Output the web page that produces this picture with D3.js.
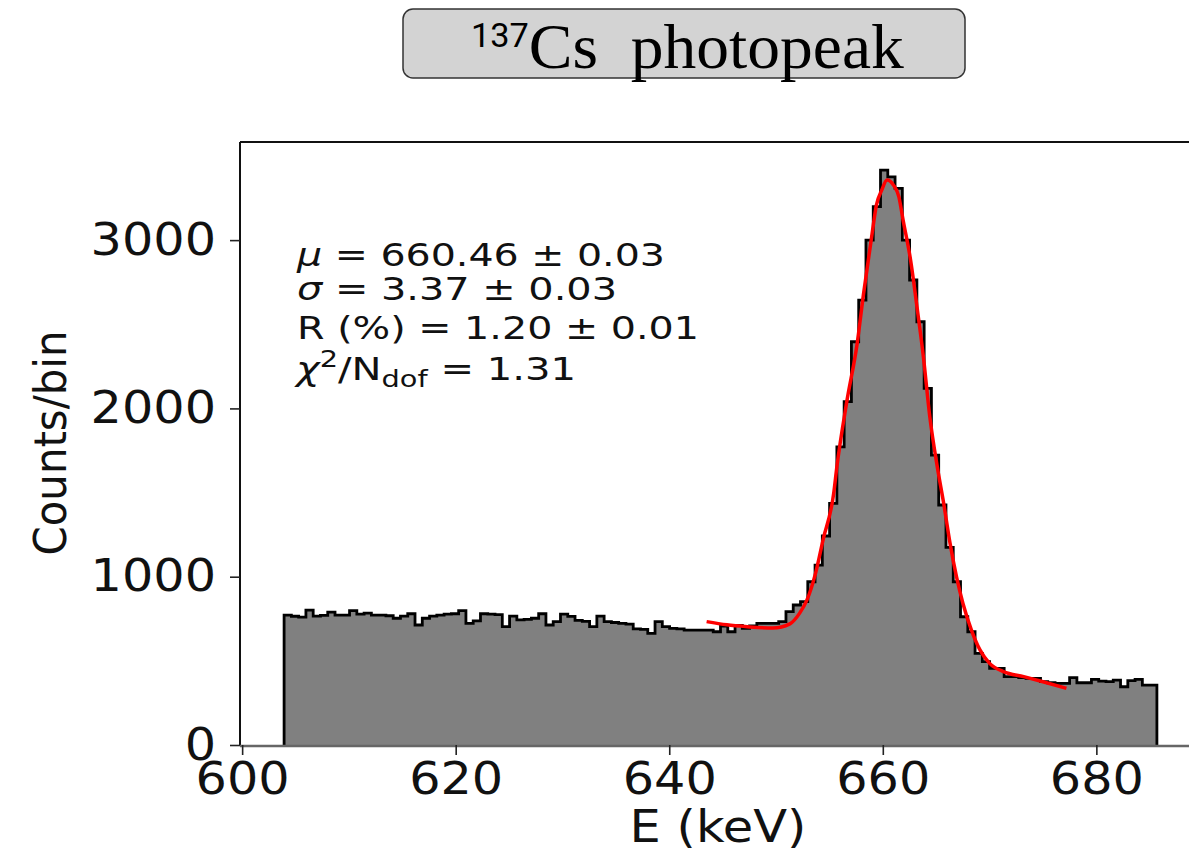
<!DOCTYPE html>
<html>
<head>
<meta charset="utf-8">
<script src="https://cdn.jsdelivr.net/npm/d3@7"></script>
<style>
  body { margin: 0; background: #fff; }
  svg { display: block; }
</style>
</head>
<body>
<div id="chart"></div>
<script>
// histogram range (keV) and counts per bin
const binLo = 603.93;
const binHi = 685.67;
const counts = [
  772, 765, 760, 802, 766, 770, 790, 772, 772, 798,
  778, 784, 772, 772, 768, 753, 766, 780, 713, 753,
  766, 772, 778, 780, 798, 723, 738, 780, 778, 775,
  703, 766, 743, 747, 753, 780, 713, 733, 778, 764,
  740, 735, 703, 766, 733, 728, 723, 718, 690, 687,
  663, 733, 703, 693, 690, 683, 683, 683, 683, 673,
  707, 673, 711, 693, 707, 723, 723, 723, 733, 792,
  832, 852, 970, 1069, 1242, 1436, 1772, 2040, 2396, 2644,
  3000, 3199, 3416, 3376, 3307, 3000, 2763, 2515, 2119, 1723,
  1426, 1174, 970, 762, 673, 545, 495, 455, 455, 406,
  406, 400, 396, 396, 376, 370, 366, 366, 400, 370,
  370, 390, 380, 376, 386, 346, 382, 390, 356, 356
];

// fitted curve, sampled off the red line
const fitE = [
  643.5, 645.4, 647.3, 649.7, 651.3, 652.2, 652.9, 653.7, 654.4, 655.4,
  655.7, 656.6, 657.6, 658.2, 659.0, 659.4, 659.9, 660.4, 661.0, 661.5,
  661.9, 662.6, 663.2, 663.8, 664.4, 665.1, 665.7, 666.3, 666.9, 667.5,
  668.3, 669.1, 670.0, 671.3, 673.2, 675.0, 677.2
];
const fitCounts = [
  733, 714, 703, 695, 720, 782, 862, 1020, 1218, 1495,
  1654, 2030, 2386, 2683, 3040, 3208, 3297, 3357, 3327, 3258,
  3119, 2882, 2604, 2307, 1951, 1654, 1436, 1198, 1000, 842,
  683, 565, 485, 436, 406, 376, 337
];

const xTicks = [600, 620, 640, 660, 680];
const yTicks = [0, 1000, 2000, 3000];
const xDomain = [599.8, 689.8];
const yDomain = [0, 3583];

const W = 1189, H = 853;
const plot = { left: 240, right: 1201, top: 142, bottom: 745 };

const svg = d3.select("#chart").append("svg")
  .attr("width", W)
  .attr("height", H);

const x = d3.scaleLinear().domain(xDomain).range([plot.left, plot.right]);
const y = d3.scaleLinear().domain(yDomain).range([plot.bottom, plot.top]);

// stretch text horizontally like the reference (it is a bit wide)
function widen(sel, f) {
  sel.each(function () {
    const w = this.getComputedTextLength();
    d3.select(this).attr("textLength", w * f).attr("lengthAdjust", "spacingAndGlyphs");
  });
}

// ---- histogram ----
const binW = (binHi - binLo) / counts.length;
const edges = counts.map((c, i) => ({ e: binLo + i * binW, c }));
edges.push({ e: binHi, c: counts[counts.length - 1] });

svg.append("path")
  .datum(edges)
  .attr("fill", "#808080")
  .attr("d", d3.area()
    .curve(d3.curveStepAfter)
    .x(d => x(d.e))
    .y0(y(0))
    .y1(d => y(d.c)));

const outline = [{ e: binLo, c: 0 }].concat(edges, [{ e: binHi, c: 0 }]);
svg.append("path")
  .datum(outline)
  .attr("fill", "none")
  .attr("stroke", "#000")
  .attr("stroke-width", 2.8)
  .attr("d", d3.line()
    .curve(d3.curveStepAfter)
    .x(d => x(d.e))
    .y(d => y(d.c)));

// ---- fit ----
svg.append("path")
  .datum(fitE.map((e, i) => [e, fitCounts[i]]))
  .attr("fill", "none")
  .attr("stroke", "#ff0000")
  .attr("stroke-width", 3.5)
  .attr("d", d3.line()
    .curve(d3.curveMonotoneX)
    .x(d => x(d[0]))
    .y(d => y(d[1])));

// ---- spines ----
svg.append("line")
  .attr("x1", plot.left).attr("x2", plot.right)
  .attr("y1", plot.top).attr("y2", plot.top)
  .attr("stroke", "#111").attr("stroke-width", 2);
svg.append("line")
  .attr("x1", plot.left).attr("x2", plot.left)
  .attr("y1", plot.top).attr("y2", plot.bottom)
  .attr("stroke", "#111").attr("stroke-width", 2);
svg.append("line")
  .attr("x1", plot.left).attr("x2", plot.right)
  .attr("y1", plot.bottom + 1).attr("y2", plot.bottom + 1)
  .attr("stroke", "#666").attr("stroke-width", 2.5);

// ---- axes ----
const xAxis = svg.append("g")
  .attr("transform", `translate(0,${plot.bottom})`)
  .call(d3.axisBottom(x).tickValues(xTicks).tickSize(10).tickPadding(8).tickFormat(d3.format("d")));
const yAxis = svg.append("g")
  .attr("transform", `translate(${plot.left},0)`)
  .call(d3.axisLeft(y).tickValues(yTicks).tickSize(10).tickPadding(14).tickFormat(d3.format("d")));

[xAxis, yAxis].forEach(g => {
  g.select(".domain").remove();
  g.selectAll(".tick line").attr("stroke", "#222").attr("stroke-width", 1.6);
  g.selectAll(".tick text")
    .attr("fill", "#111")
    .style("font-family", "DejaVu Sans")
    .style("font-size", "44px");
});
widen(xAxis.selectAll(".tick text"), 1.12);
widen(yAxis.selectAll(".tick text"), 1.12);

// axis labels
const xLabel = svg.append("text")
  .attr("x", 718)
  .attr("y", 842)
  .attr("text-anchor", "middle")
  .style("font-family", "DejaVu Sans")
  .style("font-size", "45px")
  .attr("fill", "#111")
  .text("E (keV)");
widen(xLabel, 1.1);

svg.append("text")
  .attr("transform", "translate(66,443) rotate(-90)")
  .attr("text-anchor", "middle")
  .style("font-family", "DejaVu Sans")
  .style("font-size", "44px")
  .attr("fill", "#111")
  .attr("textLength", 225)
  .attr("lengthAdjust", "spacingAndGlyphs")
  .text("Counts/bin");

// ---- fit results ----
const ann = svg.append("g")
  .style("font-family", "DejaVu Sans")
  .style("font-size", "32px")
  .attr("fill", "#111");

const l1 = ann.append("text").attr("x", 297).attr("y", 266)
  .attr("textLength", 368).attr("lengthAdjust", "spacingAndGlyphs");
l1.append("tspan").style("font-style", "italic").text("μ");
l1.append("tspan").text(" = 660.46 ± 0.03");

const l2 = ann.append("text").attr("x", 297).attr("y", 300)
  .attr("textLength", 320).attr("lengthAdjust", "spacingAndGlyphs");
l2.append("tspan").style("font-style", "italic").text("σ");
l2.append("tspan").text(" = 3.37 ± 0.03");

ann.append("text").attr("x", 297).attr("y", 339)
  .attr("textLength", 402).attr("lengthAdjust", "spacingAndGlyphs")
  .text("R (%) = 1.20 ± 0.01");

const l4 = ann.append("text").attr("x", 296).attr("y", 380)
  .attr("textLength", 280).attr("lengthAdjust", "spacingAndGlyphs");
l4.append("tspan").style("font-style", "italic").text("χ");
l4.append("tspan").attr("dy", -13).style("font-size", "23px").text("2");
l4.append("tspan").attr("dy", 13).text("/N");
l4.append("tspan").attr("dy", 7).style("font-size", "23px").text("dof");
l4.append("tspan").attr("dy", -7).text(" = 1.31");

// ---- title box ----
svg.append("rect")
  .attr("x", 403).attr("y", 9)
  .attr("width", 562).attr("height", 69)
  .attr("rx", 10)
  .attr("fill", "#d3d3d3")
  .attr("stroke", "#333")
  .attr("stroke-width", 1.5);

const title = svg.append("text")
  .attr("x", 471)
  .attr("y", 68)
  .attr("fill", "#000");
title.append("tspan")
  .attr("dy", -21)
  .style("font-family", "Roboto")
  .style("font-size", "33px")
  .text("137");
title.append("tspan")
  .attr("dy", 21)
  .style("font-family", "Liberation Serif")
  .style("font-size", "63px")
  .text("Cs\u00a0\u00a0photopeak");
widen(title, 1.04);
</script>
</body>
</html>
